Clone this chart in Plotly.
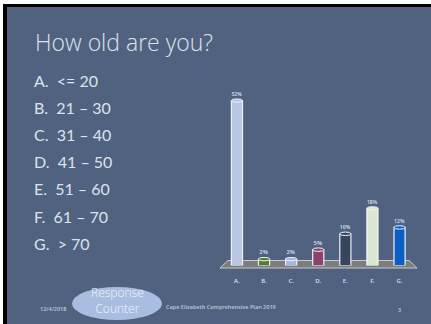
import plotly.graph_objects as go

W, H = 431, 324

# Poll question and answer options
question = "How old are you?"
options = ["A.  <= 20", "B.  21 – 30", "C.  31 – 40", "D.  41 – 50",
           "E.  51 – 60", "F.  61 – 70", "G.  > 70"]

# Results
categories = ["A.", "B.", "C.", "D.", "E.", "F.", "G."]
percents = [52, 2, 2, 5, 10, 18, 12]
bar_colors = ["#b9c7e4", "#4f7b2c", "#9db6e3", "#8b4467", "#37465d", "#dce7d2", "#0b5fc4"]

footer_date = "12/4/2018"
footer_title = "Cape Elizabeth Comprehensive Plan 2019"
slide_number = "3"
counter_label = "Response<br>Counter"

SLATE = "#506280"
TEXT = "#dde3ee"


def px(x):
    return x / W


def py(y):
    return 1 - y / H


fig = go.Figure()

fig.add_trace(go.Bar(
    x=categories,
    y=percents,
    marker=dict(color=bar_colors, line=dict(color="#eef2f8", width=1.2)),
    width=0.41,
    text=[f"{v}%" for v in percents],
    textposition="outside",
    textfont=dict(family="Noto Sans", size=6, color="#d6dde9", weight=600),
    cliponaxis=False,
    hoverinfo="skip",
))

shapes = []
# slide frame
shapes.append(dict(type="rect", xref="paper", yref="paper", x0=px(3), x1=px(W),
                   y0=py(H), y1=py(4), fillcolor="#000000", line_width=0, layer="below"))
shapes.append(dict(type="rect", xref="paper", yref="paper", x0=px(7), x1=px(W),
                   y0=py(H), y1=py(7), fillcolor=SLATE, line_width=0, layer="below"))
# chart floor
floor = (f"M {px(220)} {py(268)} L {px(228)} {py(260.5)} L {px(409)} {py(260.5)} "
         f"L {px(417)} {py(268)} Z")
shapes.append(dict(type="path", xref="paper", yref="paper", path=floor,
                   fillcolor="#7d7d7d", line=dict(color="#c8c8c8", width=1), layer="below"))
# cylinder caps drawn from each bar's value
for i, v in enumerate(percents):
    shapes.append(dict(type="circle", xref="x", yref="y",
                       x0=i - 0.205, x1=i + 0.205, y0=v - 0.55, y1=v + 0.55,
                       fillcolor=bar_colors[i], line=dict(color="#eef2f8", width=1)))
# response counter badge
shapes.append(dict(type="circle", xref="paper", yref="paper",
                   x0=px(72), x1=px(162), y0=py(320), y1=py(287),
                   fillcolor="#a9bde0", line_width=0))

annotations = [
    dict(text=question, x=px(33), y=py(41.5), xanchor="left", yanchor="middle",
         font=dict(family="Open Sans", size=23, color=TEXT, weight=300)),
    dict(text=counter_label, x=px(117), y=py(300.5), xanchor="center", yanchor="middle",
         font=dict(family="Open Sans", size=12, color="#f4f7fb", weight=300)),
    dict(text=footer_date, x=px(53), y=py(309), xanchor="center", yanchor="middle",
         font=dict(family="Noto Sans", size=5.5, color="#b8c3d6", weight=600)),
    dict(text=footer_title, x=px(221), y=py(306.5), xanchor="center", yanchor="middle",
         font=dict(family="Noto Sans", size=5.5, color="#b8c3d6", weight=600)),
    dict(text=slide_number, x=px(399), y=py(310), xanchor="center", yanchor="middle",
         font=dict(family="Noto Sans", size=5.5, color="#b8c3d6", weight=600)),
]
for k, opt in enumerate(options):
    annotations.append(dict(text=opt, x=px(32), y=py(80 + k * 27.2), xanchor="left",
                            yanchor="middle",
                            font=dict(family="Lato", size=16, color=TEXT)))
for a in annotations:
    a["xref"] = "paper"
    a["yref"] = "paper"
    a["showarrow"] = False

fig.update_layout(
    width=W, height=H,
    margin=dict(l=0, r=0, t=0, b=0),
    paper_bgcolor="#ffffff",
    plot_bgcolor="rgba(0,0,0,0)",
    showlegend=False,
    shapes=shapes,
    annotations=annotations,
    xaxis=dict(domain=[px(223.4), px(413.1)], range=[-0.5, 6.5], showgrid=False,
               zeroline=False, showline=False, ticks="outside", ticklen=9,
               tickcolor="rgba(0,0,0,0)",
               tickfont=dict(family="Noto Sans", size=6, color="#d6dde9", weight=600)),
    yaxis=dict(domain=[py(265.5), py(75.3)], range=[0, 60], showgrid=False,
               zeroline=False, showline=False, showticklabels=False, ticks=""),
)

fig.write_html("out.html")
